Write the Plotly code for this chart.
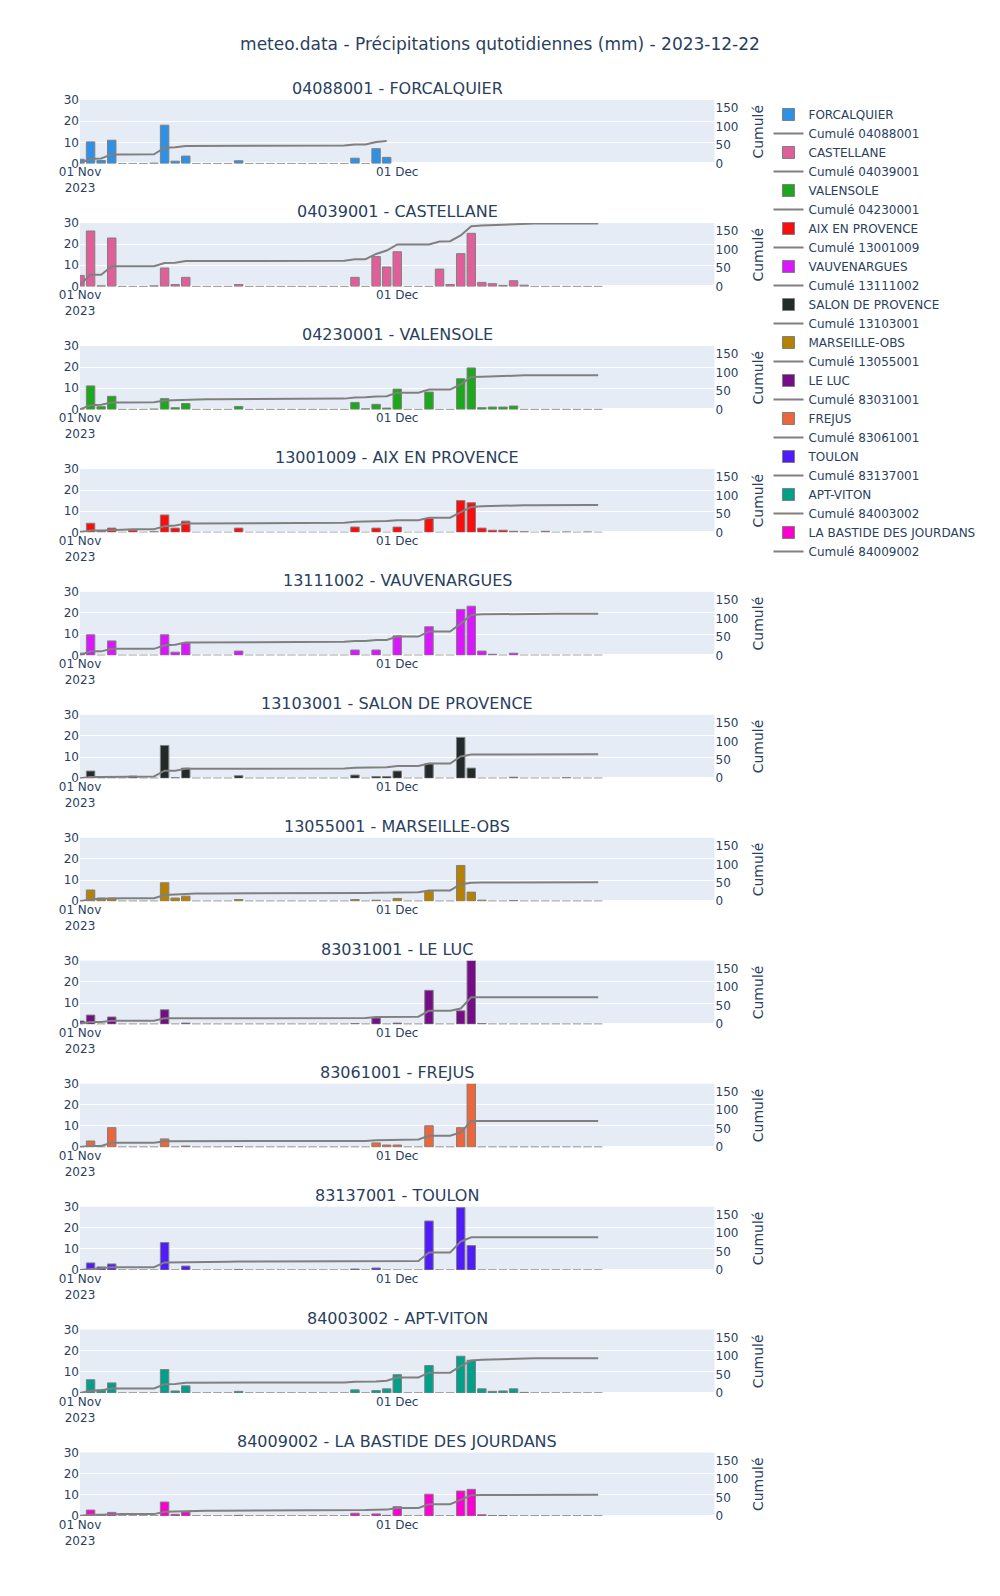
import numpy as np
import pandas as pd
import plotly.graph_objects as go
from plotly.subplots import make_subplots

chart_title = "meteo.data - Précipitations qutotidiennes (mm) - 2023-12-22"

station_ids = ["04088001", "04039001", "04230001", "13001009", "13111002", "13103001",
               "13055001", "83031001", "83061001", "83137001", "84003002", "84009002"]
station_names = ["FORCALQUIER", "CASTELLANE", "VALENSOLE", "AIX EN PROVENCE", "VAUVENARGUES",
                 "SALON DE PROVENCE", "MARSEILLE-OBS", "LE LUC", "FREJUS", "TOULON",
                 "APT-VITON", "LA BASTIDE DES JOURDANS"]
colors = ["#2E91E5", "#E15F99", "#1CA71C", "#FB0D0D", "#DA16FF", "#222A2A",
          "#B68100", "#750D86", "#EB663B", "#511CFB", "#00A08B", "#FB00D1"]

dates = pd.date_range("2023-11-01", "2023-12-20", freq="D")
x_range = ["2023-11-01", "2023-12-31"]
tick_vals = ["2023-11-01", "2023-12-01"]
tick_text = ["01 Nov<br>2023", "01 Dec"]

# daily precipitation (mm), one value per day from 2023-11-01
forcalquier = [2.0, 10.2, 1.4, 11.0, 0, 0, 0, 0.2, 18.1, 1.1,
               3.5, 0, 0, 0, 0, 1.3, 0, 0, 0, 0,
               0, 0, 0, 0, 0, 0, 2.5, 0, 7.0, 2.9]
castellane = [5.2, 26.2, 0.3, 22.9, 0, 0, 0, 0.3, 8.7, 0.9,
              4.3, 0, 0, 0, 0, 0.9, 0, 0, 0, 0,
              0, 0, 0, 0, 0, 0, 4.3, 0, 14.1, 9.2,
              16.4, 0, 0, 0, 8.2, 0.9, 15.5, 25.1, 1.9, 1.3,
              0.5, 2.7, 0.6, 0, 0, 0, 0, 0, 0, 0]
valensole = [0.3, 11.1, 1.3, 6.2, 0, 0, 0, 0.2, 5.1, 0.8,
             2.8, 0, 0, 0, 0, 1.4, 0, 0, 0, 0,
             0, 0, 0, 0, 0, 0, 3.3, 0.3, 2.4, 0.6,
             9.6, 0, 0, 8.2, 0, 0, 14.5, 19.6, 0.8, 1.1,
             1.1, 1.6, 0, 0, 0, 0, 0, 0, 0, 0]
aix = [0.5, 4.3, 0.5, 2.0, 0, 1.0, 0, 0.3, 8.2, 2.0,
       5.3, 0, 0, 0, 0, 2.0, 0, 0, 0, 0,
       0, 0, 0, 0, 0, 0, 2.5, 0, 2.0, 0,
       2.5, 0, 0, 6.5, 0, 0, 15.0, 14.0, 2.0, 1.0,
       1.0, 0.5, 0.3, 0, 0.5, 0, 0.2, 0, 0.2, 0]
vauvenargues = [1.0, 9.7, 0, 6.8, 0, 0, 0, 0, 9.7, 1.5,
                5.8, 0, 0, 0, 0, 2.0, 0, 0, 0, 0,
                0, 0, 0, 0, 0, 0, 2.5, 0, 2.5, 0,
                9.2, 0, 0, 13.5, 0, 0, 21.7, 23.2, 2.0, 0.5,
                0, 1.0, 0, 0, 0, 0, 0, 0, 0, 0]
salon = [0, 3.4, 0, 0.5, 0, 1.0, 0, 0, 15.5, 0.3,
         4.8, 0, 0, 0, 0, 1.2, 0, 0, 0, 0,
         0, 0, 0, 0, 0, 0, 1.5, 0, 0.8, 0.8,
         3.4, 0, 0, 6.8, 0, 0, 19.3, 4.8, 0, 0,
         0, 0.5, 0, 0, 0, 0, 0.3, 0, 0, 0]
marseille = [0, 5.3, 1.5, 1.5, 0, 0, 0, 0, 8.7, 1.5,
             2.4, 0, 0, 0, 0, 0.8, 0, 0, 0, 0,
             0, 0, 0, 0, 0, 0, 0.8, 0, 0.5, 0,
             1.3, 0, 0, 4.8, 0, 0, 16.9, 4.3, 0.5, 0,
             0, 0.3, 0, 0, 0, 0, 0, 0, 0, 0]
le_luc = [1.5, 4.3, 0, 3.4, 0, 0, 0, 0, 6.8, 0,
          0.5, 0, 0, 0, 0, 0, 0, 0, 0, 0,
          0, 0, 0, 0, 0, 0, 0.3, 0, 2.9, 0,
          0.5, 0, 0, 16.0, 0, 0, 6.3, 30.5, 0.3, 0,
          0, 0, 0, 0, 0, 0, 0, 0, 0, 0]
frejus = [0, 2.9, 0, 9.2, 0, 0, 0, 0, 3.9, 0,
          0.5, 0, 0, 0, 0, 0.3, 0, 0, 0, 0,
          0, 0, 0, 0, 0, 0, 0, 0, 2.0, 1.0,
          1.0, 0, 0, 10.1, 0, 0, 9.2, 30.5, 0, 0,
          0, 0, 0, 0, 0, 0, 0, 0, 0, 0]
toulon = [0, 3.4, 1.5, 2.9, 0, 0, 0, 0, 13.0, 0,
          1.9, 0, 0, 0, 0, 0.3, 0, 0, 0, 0,
          0, 0, 0, 0, 0, 0, 0.5, 0, 1.0, 0,
          0, 0, 0, 23.2, 0, 0, 29.5, 11.6, 0, 0,
          0, 0, 0, 0, 0, 0, 0, 0, 0, 0]
apt_viton = [0, 6.3, 1.5, 4.8, 0, 0, 0, 0, 11.1, 1.0,
             3.4, 0, 0, 0, 0, 0.8, 0, 0, 0, 0,
             0, 0, 0, 0, 0, 0, 1.5, 0, 1.2, 2.0,
             8.7, 0, 0, 13.0, 0, 0, 17.4, 15.5, 2.0, 0.8,
             1.0, 2.0, 0.3, 0, 0, 0, 0, 0, 0, 0]
la_bastide = [0.3, 2.8, 0.3, 1.7, 0, 0, 0, 0, 6.6, 0.8,
              1.9, 0, 0, 0, 0, 0.3, 0, 0, 0, 0,
              0, 0, 0, 0, 0, 0, 1.3, 0, 1.0, 0.3,
              4.4, 0, 0, 10.3, 0, 0, 11.8, 12.6, 0.6, 0.2,
              0.2, 0, 0, 0, 0, 0, 0, 0, 0, 0]

series = [forcalquier, castellane, valensole, aix, vauvenargues, salon,
          marseille, le_luc, frejus, toulon, apt_viton, la_bastide]

cumuls = [np.cumsum(s) for s in series]
cumul_max = max(float(c[-1]) for c in cumuls)

n = len(series)
fig = make_subplots(
    rows=n, cols=1,
    specs=[[{"secondary_y": True}] for _ in range(n)],
    subplot_titles=[f"{sid} - {name}" for sid, name in zip(station_ids, station_names)],
    vertical_spacing=0.042,
)

for k in range(n):
    x = dates[:len(series[k])]
    fig.add_trace(
        go.Bar(x=x, y=series[k], name=station_names[k],
               marker=dict(color=colors[k], line=dict(color="grey", width=1))),
        row=k + 1, col=1, secondary_y=False,
    )
    fig.add_trace(
        go.Scatter(x=x, y=cumuls[k], mode="lines", name=f"Cumulé {station_ids[k]}",
                   line=dict(color="grey", width=2)),
        row=k + 1, col=1, secondary_y=True,
    )

fig.update_xaxes(range=x_range, tickmode="array", tickvals=tick_vals, ticktext=tick_text)
fig.update_yaxes(range=[0, 30], dtick=10, secondary_y=False)
fig.update_yaxes(range=[0, cumul_max * 1.01], dtick=50, showgrid=False,
                 title_text="Cumulé", secondary_y=True)

fig.update_layout(
    width=1000, height=1596,
    font=dict(family="DejaVu Sans"),
    title=dict(text=chart_title, x=0.5, xanchor="center", xref="container",
               y=0.9725, yanchor="middle"),
    margin=dict(l=80, r=245, t=100, b=80, autoexpand=False),
    legend=dict(x=1.02, xanchor="left", y=1, yanchor="top"),
    bargap=0.2,
)

fig.write_html("out.html", config={"displayModeBar": False},
               post_script="document.body.style.margin='0px';")
